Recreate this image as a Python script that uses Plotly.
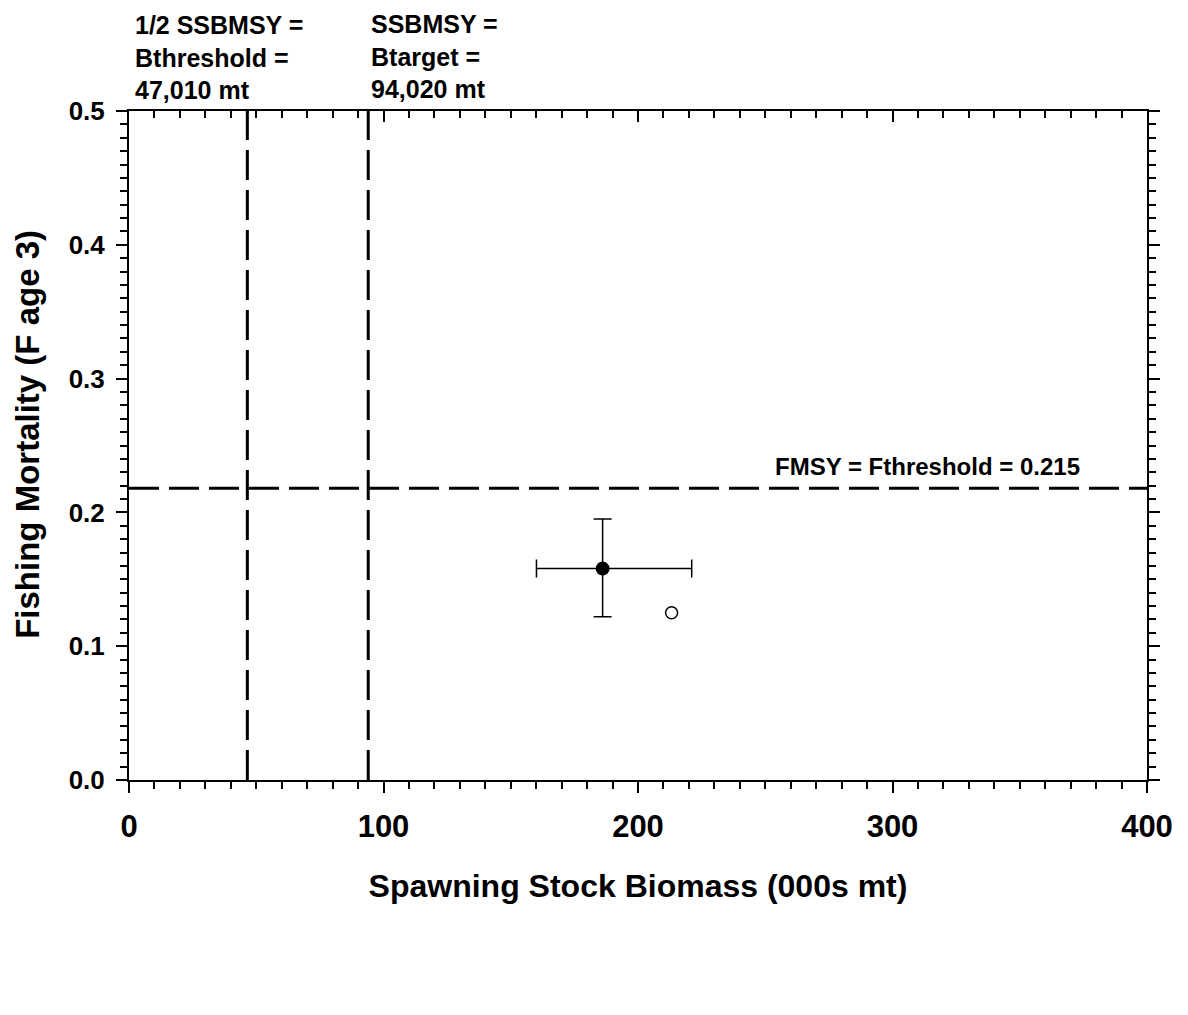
import plotly.graph_objects as go

# Data
ssb_current = [186.1]
f_current = [0.158]
ssb_err_minus = [26.0]
ssb_err_plus = [35.0]
f_err_minus = [0.036]
f_err_plus = [0.037]
ssb_alt = [213.2]
f_alt = [0.125]

b_threshold = 46.5
b_target = 94.0
f_threshold_line = 0.218

x_ticks = [0, 100, 200, 300, 400]
y_ticks = [0.0, 0.1, 0.2, 0.3, 0.4, 0.5]

FONT = "Liberation Sans, Arial, sans-serif"

fig = go.Figure()

fig.add_trace(go.Scatter(
    x=ssb_current, y=f_current, mode="markers",
    marker=dict(color="black", size=14),
    error_x=dict(type="data", symmetric=False, array=ssb_err_plus, arrayminus=ssb_err_minus,
                 color="black", thickness=1.5, width=9),
    error_y=dict(type="data", symmetric=False, array=f_err_plus, arrayminus=f_err_minus,
                 color="black", thickness=1.5, width=9),
    showlegend=False))

fig.add_trace(go.Scatter(
    x=ssb_alt, y=f_alt, mode="markers",
    marker=dict(color="black", size=12, symbol="circle-open", line=dict(color="black", width=1.5)),
    showlegend=False))

dash = "30px,10px"
fig.add_shape(type="line", xref="x", yref="paper", x0=b_threshold, x1=b_threshold, y0=0, y1=1,
              line=dict(color="black", width=3, dash=dash))
fig.add_shape(type="line", xref="x", yref="paper", x0=b_target, x1=b_target, y0=0, y1=1,
              line=dict(color="black", width=3, dash=dash))
fig.add_shape(type="line", xref="paper", yref="y", x0=0, x1=1, y0=f_threshold_line, y1=f_threshold_line,
              line=dict(color="black", width=3, dash=dash))

fig.add_annotation(text="1/2 SSBMSY =<br>Bthreshold =<br>47,010 mt", xref="paper", yref="paper",
                   x=0.004, y=1.152, xanchor="left", yanchor="top", align="left", showarrow=False,
                   font=dict(family=FONT, size=25, color="black", weight="bold"))
fig.add_annotation(text="SSBMSY =<br>Btarget =<br>94,020 mt", xref="paper", yref="paper",
                   x=0.236, y=1.154, xanchor="left", yanchor="top", align="left", showarrow=False,
                   font=dict(family=FONT, size=25, color="black", weight="bold"))
fig.add_annotation(text="FMSY = Fthreshold = 0.215", xref="x", yref="y",
                   x=253, y=0.234, xanchor="left", yanchor="middle", showarrow=False,
                   font=dict(family=FONT, size=24, color="black", weight="bold"))
# y-axis title
fig.add_annotation(text="Fishing Mortality (F age 3)", xref="paper", yref="paper",
                   x=-0.0992, y=0.516, xanchor="center", yanchor="middle", textangle=-90,
                   showarrow=False, font=dict(family=FONT, size=33, color="black", weight="bold"))

axis_common = dict(showgrid=False, zeroline=False, showline=True, linecolor="black", linewidth=2)

fig.update_layout(
    width=1188, height=1015,
    margin=dict(l=121, r=49, t=103, b=243),
    paper_bgcolor="white", plot_bgcolor="white",
    font=dict(family=FONT, color="black"),
    xaxis=dict(range=[0, 400], tickvals=x_ticks, ticktext=[str(v) for v in x_ticks],
               ticks="outside", ticklen=11, tickwidth=2, tickcolor="black",
               minor=dict(dtick=10, ticks="outside", ticklen=7, tickwidth=2, tickcolor="black"),
               tickfont=dict(size=31, family=FONT, weight="bold"), ticklabelstandoff=7,
               title=dict(text="Spawning Stock Biomass (000s mt)", standoff=31,
                          font=dict(size=32, family=FONT, weight="bold")),
               **axis_common),
    yaxis=dict(range=[0, 0.5], tickvals=y_ticks, ticktext=[f"{v:.1f}" for v in y_ticks],
               ticks="outside", ticklen=11, tickwidth=2, tickcolor="black",
               minor=dict(dtick=0.01, ticks="outside", ticklen=7, tickwidth=2, tickcolor="black"),
               tickfont=dict(size=26, family=FONT, weight="bold"), ticklabelstandoff=6,
               **axis_common),
    xaxis2=dict(range=[0, 400], overlaying="x", side="top", tickvals=x_ticks, showticklabels=False,
                ticks="inside", ticklen=11, tickwidth=2, tickcolor="black",
                minor=dict(dtick=10, ticks="inside", ticklen=7, tickwidth=2, tickcolor="black"),
                **axis_common),
    yaxis2=dict(range=[0, 0.5], overlaying="y", side="right", tickvals=y_ticks, showticklabels=False,
                ticks="outside", ticklen=11, tickwidth=2, tickcolor="black",
                minor=dict(dtick=0.01, ticks="outside", ticklen=7, tickwidth=2, tickcolor="black"),
                **axis_common),
)

# invisible trace to activate the mirror axes
fig.add_trace(go.Scatter(x=[0], y=[0], xaxis="x2", yaxis="y2", mode="markers",
                         marker=dict(opacity=0), showlegend=False, hoverinfo="skip"))

fig.write_html("out.html")
